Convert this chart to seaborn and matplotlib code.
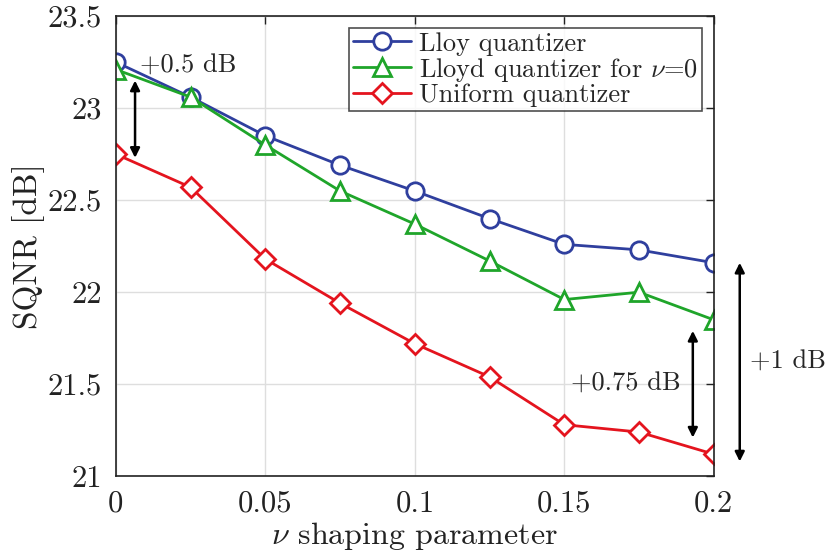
import matplotlib
matplotlib.use("Agg")
import matplotlib.pyplot as plt
import seaborn as sns
import pandas as pd

nu = [0, 0.025, 0.05, 0.075, 0.1, 0.125, 0.15, 0.175, 0.2]
lloyd = [23.25, 23.06, 22.85, 22.69, 22.55, 22.40, 22.26, 22.23, 22.16]
lloyd_nu0 = [23.21, 23.06, 22.80, 22.55, 22.37, 22.17, 21.96, 22.00, 21.85]
uniform = [22.75, 22.57, 22.18, 21.94, 21.72, 21.54, 21.28, 21.24, 21.12]

series_names = ["Lloy quantizer", r"Lloyd quantizer for $\nu$=0", "Uniform quantizer"]
series_values = [lloyd, lloyd_nu0, uniform]
colors = ["#2f3f9e", "#1fa52a", "#e4141e"]
markers = ["o", "^", "D"]
marker_sizes = [12.5, 13, 10]

sns.set_theme(style="white")
plt.rcParams["font.family"] = ["cmr10", "DejaVu Serif"]
plt.rcParams["mathtext.fontset"] = "cm"
plt.rcParams["axes.formatter.use_mathtext"] = True
plt.rcParams["axes.unicode_minus"] = False

df = pd.concat(
    [pd.DataFrame({"nu": nu, "sqnr": v, "series": n}) for n, v in zip(series_names, series_values)],
    ignore_index=True,
)

fig = plt.figure(figsize=(8.28, 5.57), dpi=100)
ax = fig.add_axes([0.140, 0.145, 0.722, 0.826])

for name, col, mk, ms in zip(series_names, colors, markers, marker_sizes):
    sub = df[df["series"] == name]
    sns.lineplot(data=sub, x="nu", y="sqnr", ax=ax, color=col, linewidth=2,
                 marker=mk, markersize=ms, markerfacecolor="white",
                 markeredgecolor=col, markeredgewidth=2, label=name)

ax.set_xlim(0, 0.2)
ax.set_ylim(21, 23.5)
ax.set_xticks([0, 0.05, 0.1, 0.15, 0.2])
ax.set_xticklabels(["0", "0.05", "0.1", "0.15", "0.2"])
ax.set_yticks([21, 21.5, 22, 22.5, 23, 23.5])
ax.set_yticklabels(["21", "21.5", "22", "22.5", "23", "23.5"])
ax.grid(True, color="#dedede", linewidth=1)
ax.tick_params(direction="in", length=6, width=1, labelsize=22, colors="#222222",
               top=True, right=True, pad=10)
for s in ax.spines.values():
    s.set_visible(True)
    s.set_color("#222222")
    s.set_linewidth(1.2)

ax.set_xlabel(r"$\nu$ shaping parameter", fontsize=23, color="#222222", labelpad=2)
ax.set_ylabel("SQNR [dB]", fontsize=24, color="#222222", labelpad=2)

leg = ax.legend(loc="upper right", fontsize=19, frameon=True, fancybox=False,
                borderpad=0.15, handlelength=2.2, handletextpad=0.3, labelspacing=0.0,
                borderaxespad=0.45)
leg.get_frame().set_edgecolor("#222222")
leg.get_frame().set_linewidth(1.2)

arrow = dict(arrowstyle="<|-|>", color="black", lw=1.8, mutation_scale=14, shrinkA=0, shrinkB=0)
ax.annotate("", xy=(0.0064, 22.73), xytext=(0.0064, 23.15), arrowprops=arrow)
ax.text(0.008, 23.23, "+0.5 dB", fontsize=19, va="center", ha="left")
ax.annotate("", xy=(0.193, 21.21), xytext=(0.193, 21.79), arrowprops=arrow)
ax.text(0.1705, 21.5, "+0.75 dB", fontsize=19, va="center", ha="center")
ax.annotate("", xy=(0.2087, 21.08), xytext=(0.2087, 22.16), arrowprops=arrow,
            annotation_clip=False)
ax.text(0.2122, 21.62, "+1 dB", fontsize=19, va="center", ha="left", clip_on=False)

fig.savefig("out.png", dpi=100)
